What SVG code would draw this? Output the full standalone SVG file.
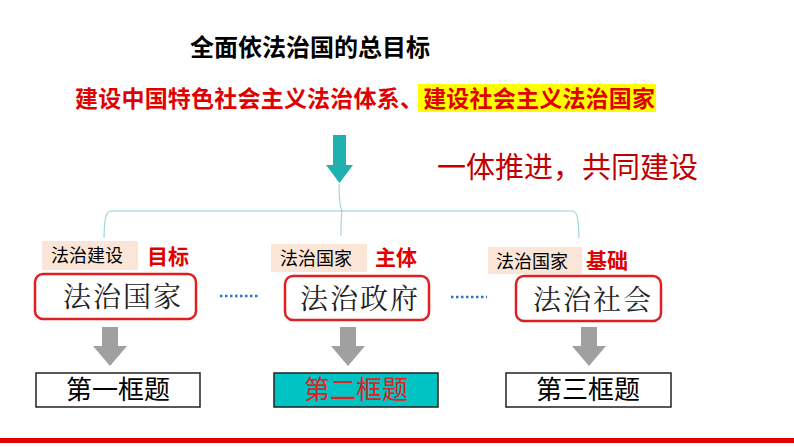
<svg xmlns="http://www.w3.org/2000/svg" width="794" height="447" viewBox="0 0 794 447">
<style>
.s{font-family:"Noto Sans CJK SC",sans-serif}
.lb{fill:#fbe5d6}
.rb{fill:#fff;stroke:#e02020;stroke-width:2.5}
.big{font-family:"Noto Serif CJK SC","Noto Sans CJK SC",serif;font-size:28px;letter-spacing:2px;fill:#222}
.red{fill:#e00000;font-weight:bold;font-size:21px}
.bt{font-size:26px}
.ga{fill:#a0a0a0}
.lt{font-size:18px}
</style>
<rect width="794" height="447" fill="#fff"/>
<text class="s" x="190" y="56" font-size="24" font-weight="bold">全面依法治国的总目标</text>
<rect x="418" y="84" width="238" height="28" fill="#ffff00"/>
<text class="s" x="75" y="107" font-size="23" font-weight="bold" fill="#e00000" textLength="580">建设中国特色社会主义法治体系、建设社会主义法治国家</text>
<text class="s" x="437" y="178" font-size="29" fill="#c00000">一体推进，共同建设</text>
<g id="conn">
<rect x="333" y="135" width="13" height="32" fill="#20b0b0"/>
<polygon points="326,165 353,165 339.5,183" fill="#20b0b0"/>
<path d="M339,184 Q339,205 342,211 Q341,214 341,236 M104,238 Q104,211 110,211 L573,211 Q579,211 579,238" fill="none" stroke="#8fd0d0" stroke-width="1"/>
<path d="M220,296 H258 M451,297 H487" stroke="#3070d0" stroke-width="2.5" stroke-dasharray="2.5,2.5"/>
<g class="ga">
<rect x="102" y="327" width="16" height="20"/><polygon points="93,346 127,346 110,366"/>
<rect x="340" y="327" width="16" height="20"/><polygon points="331,346 365,346 348,366"/>
<rect x="581" y="327" width="16" height="20"/><polygon points="572,346 606,346 589,366"/>
</g>
</g>
<g id="n1">
<rect class="lb" x="42" y="241" width="96" height="29"/>
<text class="s lt" x="51" y="262">法治建设</text>
<text class="s red" x="147" y="264">目标</text>
<rect class="rb" x="35" y="274" width="161" height="45" rx="8"/>
<text class="big" x="63" y="307">法治国家</text>
</g>
<g id="n2">
<rect class="lb" x="271" y="244" width="96" height="28"/>
<text class="s lt" x="280" y="265">法治国家</text>
<text class="s red" x="375" y="265">主体</text>
<rect class="rb" x="285" y="276" width="144" height="44" rx="8"/>
<text class="big" x="300" y="309">法治政府</text>
</g>
<g id="n3">
<rect class="lb" x="488" y="247" width="94" height="27"/>
<text class="s lt" x="496" y="268">法治国家</text>
<text class="s red" x="586" y="268">基础</text>
<rect class="rb" x="516" y="276" width="145" height="45" rx="8"/>
<text class="big" x="533" y="310">法治社会</text>
</g>
<g id="b1"><rect x="36" y="373" width="164" height="34" fill="#fff" stroke="#222" stroke-width="1.5"/><text class="s bt" x="118" y="399" text-anchor="middle">第一框题</text></g>
<g id="b2"><rect x="274" y="373" width="164" height="34" fill="#00c4c4" stroke="#222" stroke-width="1.5"/><text class="s bt" x="356" y="399" text-anchor="middle" fill="#e02020">第二框题</text></g>
<g id="b3"><rect x="506" y="373" width="165" height="34" fill="#fff" stroke="#222" stroke-width="1.5"/><text class="s bt" x="588" y="399" text-anchor="middle">第三框题</text></g>
<rect x="0" y="438" width="794" height="5" fill="#e00000"/>
</svg>
